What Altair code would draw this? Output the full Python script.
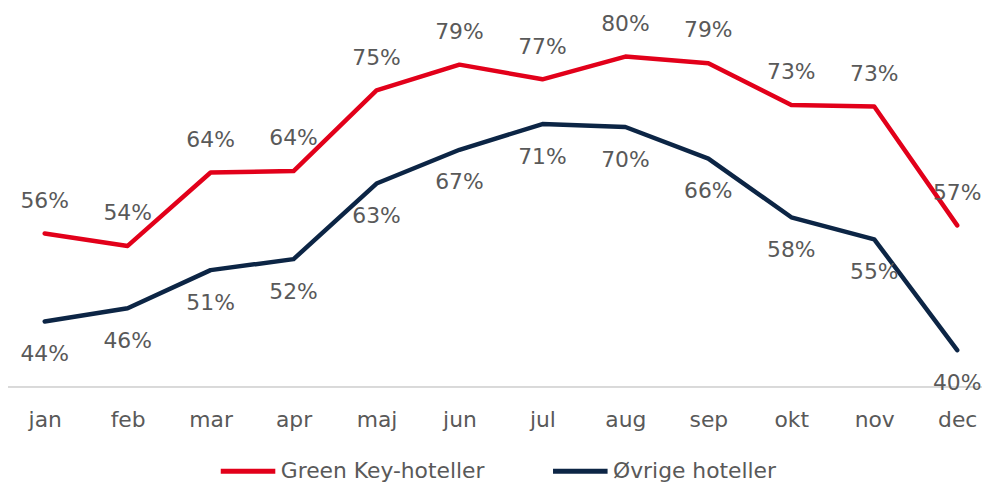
import altair as alt
import pandas as pd

months = ["jan", "feb", "mar", "apr", "maj", "jun", "jul", "aug", "sep", "okt", "nov", "dec"]
green_key = [55.9, 54.2, 64.2, 64.4, 75.4, 78.9, 76.9, 80.0, 79.1, 73.4, 73.2, 57.0]
ovrige = [43.9, 45.7, 50.9, 52.4, 62.7, 67.3, 70.8, 70.4, 66.1, 58.1, 55.1, 40.0]
series = ["Green Key-hoteller", "Øvrige hoteller"]
colors = ["#e2001a", "#0c2545"]

rows = []
for m, a, b in zip(months, green_key, ovrige):
    rows.append({"month": m, "series": series[0], "value": a})
    rows.append({"month": m, "series": series[1], "value": b})
df = pd.DataFrame(rows)

FONT = "DejaVu Sans"
TXT = "#595959"
FS = 22

x = alt.X("month:N", sort=months, title=None,
          scale=alt.Scale(type="point", range=[37, 957], padding=0),
          axis=alt.Axis(labelAngle=0, ticks=False, grid=False, domain=False,
                        labelFontSize=FS, labelColor=TXT, labelFont=FONT,
                        labelPadding=23))
y = alt.Y("value:Q", axis=None, scale=alt.Scale(domain=[35, 86.35], zero=False, nice=False))

base = alt.Chart(df)

baseline = base.mark_rule(color="#d9d9d9", strokeWidth=1.5).encode(
    x=alt.value(-4), x2=alt.value(982), y=alt.value(380))

lines = base.mark_line(strokeWidth=4.5, strokeCap="round", strokeJoin="round").encode(
    x=x, y=y,
    color=alt.Color("series:N", sort=series,
                    scale=alt.Scale(domain=series, range=colors),
                    legend=alt.Legend(title=None, orient="none", direction="horizontal",
                                      legendX=212, legendY=435, symbolType="stroke",
                                      symbolSize=3025, symbolStrokeWidth=5,
                                      labelFontSize=FS, labelFont=FONT, labelColor=TXT,
                                      labelLimit=400, labelOffset=3, columnPadding=58)),
)

lab = base.transform_calculate(label="format(datum.value, '.0f') + '%'")
top_labels = lab.transform_filter(alt.datum.series == series[0]).mark_text(
    dy=-33, fontSize=FS, font=FONT, color=TXT).encode(x=x, y=y, text="label:N")
bot_labels = lab.transform_filter(alt.datum.series == series[1]).mark_text(
    dy=33, fontSize=FS, font=FONT, color=TXT).encode(x=x, y=y, text="label:N")

chart = alt.layer(baseline, lines, top_labels, bot_labels).properties(
    width=982, height=380,
    autosize=alt.AutoSizeParams(type="none"),
    padding={"left": 0, "top": 0, "right": 0, "bottom": 97},
).configure_view(stroke=None)

chart.save("out.html", embed_options={"renderer": "svg", "actions": False})
